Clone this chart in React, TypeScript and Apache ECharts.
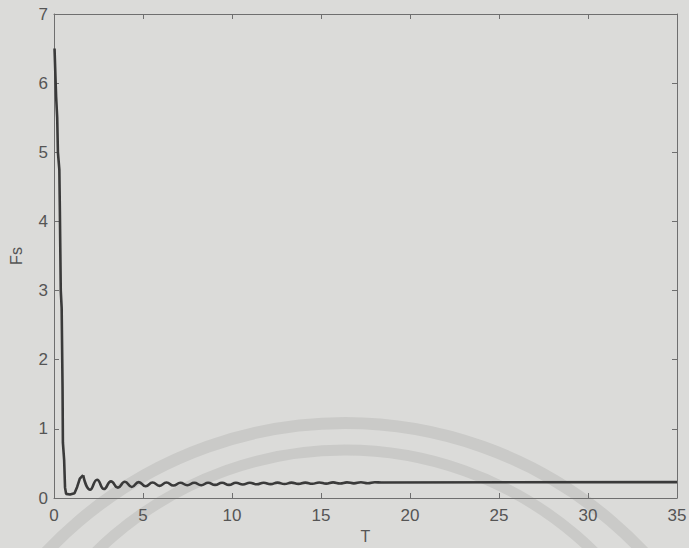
import React, { useEffect, useRef } from "react";
import * as echarts from "echarts";

// Initial steep drop (T, Fs)
const dropT = [0.03, 0.1, 0.12, 0.18, 0.22, 0.3, 0.33, 0.38, 0.43, 0.48, 0.5, 0.57, 0.62, 0.68, 0.9, 1.15, 1.3, 1.45, 1.64];
const dropFs = [6.5, 5.95, 5.8, 5.5, 5.0, 4.75, 4.15, 3.0, 2.75, 1.6, 0.8, 0.55, 0.15, 0.06, 0.05, 0.07, 0.16, 0.28, 0.33];

// Damped oscillation (T, Fs) — alternating peaks/troughs, then flat
const oscT = [1.64, 2.03, 2.42, 2.81, 3.2, 3.59, 3.98, 4.37, 4.76, 5.15, 5.54, 5.93, 6.32, 6.71, 7.1, 7.49, 7.88, 8.27, 8.66, 9.05, 9.44, 9.83, 10.22, 10.61, 11.0, 11.39, 11.78, 12.17, 12.56, 12.95, 13.34, 13.73, 14.12, 14.51, 14.9, 15.29, 15.68, 16.07, 16.46, 16.85, 17.24, 17.63, 18.02, 18.4, 35];
const oscFs = [0.33, 0.12, 0.265, 0.13, 0.24, 0.15, 0.235, 0.16, 0.23, 0.17, 0.225, 0.175, 0.225, 0.18, 0.22, 0.185, 0.22, 0.185, 0.22, 0.19, 0.22, 0.19, 0.22, 0.195, 0.22, 0.198, 0.22, 0.2, 0.222, 0.202, 0.222, 0.204, 0.223, 0.206, 0.225, 0.208, 0.226, 0.21, 0.226, 0.212, 0.227, 0.213, 0.227, 0.225, 0.23];

const xTicks = [0, 5, 10, 15, 20, 25, 30, 35];
const yTicks = [0, 1, 2, 3, 4, 5, 6, 7];

const BG = "#dbdbd9";
const AXIS = "#6f6f6f";
const LABEL = "#555555";
const LINE = "#3a3a3a";
const FONT = "Liberation Sans, Arial, sans-serif";

export default function App() {
  const ref = useRef<HTMLDivElement>(null);
  useEffect(() => {
    if (!ref.current) return;
    const chart = echarts.init(ref.current, null, { renderer: "svg" });
    const axisCommon = {
      type: "value" as const,
      axisLine: { show: true, onZero: false, lineStyle: { color: AXIS, width: 1 } },
      axisTick: { show: true, inside: true, length: 5, lineStyle: { color: AXIS } },
      splitLine: { show: false },
    };
    chart.setOption({
      animation: false,
      backgroundColor: BG,
      graphic: [
        { type: "arc", shape: { cx: 345, cy: 833, r: 410, startAngle: Math.PI * 1.05, endAngle: Math.PI * 1.95 }, style: { stroke: "#cacac8", lineWidth: 12, fill: "none" }, z: -10, silent: true },
        { type: "arc", shape: { cx: 345, cy: 805, r: 355, startAngle: Math.PI * 1.05, endAngle: Math.PI * 1.95 }, style: { stroke: "#cacac8", lineWidth: 11, fill: "none" }, z: -10, silent: true },
      ],
      grid: { left: 54, right: 12, top: 14, bottom: 50, containLabel: false, outerBoundsMode: "none" },
      xAxis: [
        {
          ...axisCommon,
          position: "bottom",
          min: 0, max: 35, interval: 5,
          name: "T", nameLocation: "middle", nameGap: 29,
          nameTextStyle: { color: LABEL, fontSize: 16, fontFamily: FONT },
          axisLabel: { color: LABEL, fontSize: 17, fontFamily: FONT, margin: 9, formatter: (v: number) => (xTicks.includes(v) ? String(v) : "") },
        },
        {
          ...axisCommon,
          position: "top",
          min: 0, max: 35, interval: 5,
          axisLabel: { show: false },
        },
      ],
      yAxis: [
        {
          ...axisCommon,
          position: "left",
          min: 0, max: 7, interval: 1,
          name: "Fs", nameLocation: "middle", nameGap: 30,
          nameTextStyle: { color: LABEL, fontSize: 16, fontFamily: FONT },
          axisLabel: { color: LABEL, fontSize: 17, fontFamily: FONT, margin: 6, formatter: (v: number) => (yTicks.includes(v) ? String(v) : "") },
        },
        {
          ...axisCommon,
          position: "right",
          min: 0, max: 7, interval: 1,
          axisLabel: { show: false },
        },
      ],
      series: [
        {
          type: "line",
          data: dropT.map((t, i) => [t, dropFs[i]]),
          showSymbol: false,
          lineStyle: { color: LINE, width: 2.6 },
          smooth: false,
        },
        {
          type: "line",
          data: oscT.map((t, i) => [t, oscFs[i]]),
          showSymbol: false,
          lineStyle: { color: LINE, width: 2.6 },
          smooth: 0.5,
        },
      ],
    });
    return () => chart.dispose();
  }, []);
  return <div ref={ref} style={{ width: 689, height: 548, position: "fixed", left: 0, top: 0 }} />;
}
